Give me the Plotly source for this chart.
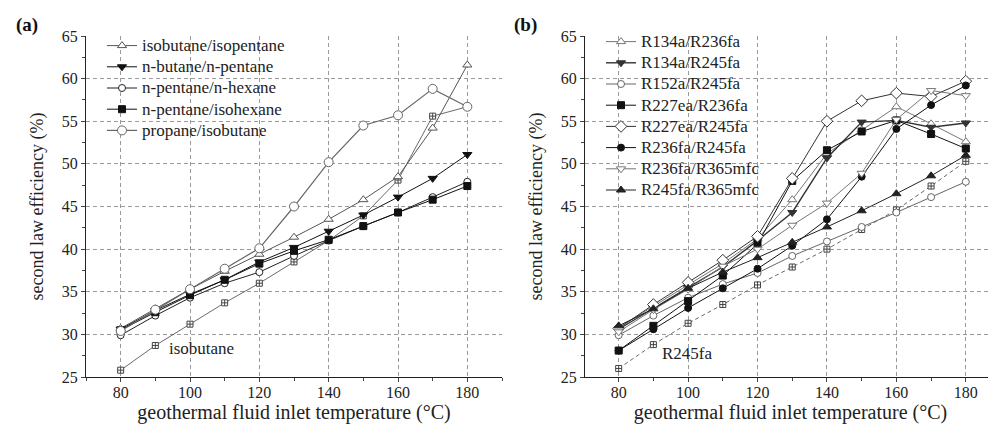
import plotly.graph_objects as go

temps = [80, 90, 100, 110, 120, 130, 140, 150, 160, 170, 180]

# ---- panel (a): hydrocarbon mixtures ----
a_names = ["isobutane/isopentane", "n-butane/n-pentane", "n-pentane/n-hexane",
           "n-pentane/isohexane", "propane/isobutane"]
a_isobutane_isopentane = [30.7, 33.0, 35.3, 37.4, 39.4, 41.4, 43.5, 45.8, 48.5, 54.2, 61.6]
a_nbutane_npentane = [30.6, 32.8, 34.7, 36.4, 38.5, 40.2, 42.1, 44.0, 46.1, 48.3, 51.1]
a_npentane_nhexane = [29.9, 32.2, 34.3, 36.0, 37.3, 39.2, 41.0, 42.7, 44.3, 46.1, 47.9]
a_npentane_isohexane = [30.5, 32.6, 34.6, 36.4, 38.3, 39.8, 41.1, 42.7, 44.3, 45.8, 47.4]
a_propane_isobutane = [30.4, 32.9, 35.3, 37.7, 40.1, 45.0, 50.2, 54.5, 55.7, 58.8, 56.7]
a_isobutane = [25.8, 28.7, 31.2, 33.7, 36.0, 38.5, 41.0, 43.9, 48.1, 55.6, 56.7]

# ---- panel (b): refrigerant mixtures ----
b_names = ["R134a/R236fa", "R134a/R245fa", "R152a/R245fa", "R227ea/R236fa",
           "R227ea/R245fa", "R236fa/R245fa", "R236fa/R365mfc", "R245fa/R365mfc"]
b_r134a_r236fa = [30.8, 33.3, 35.8, 38.3, 41.2, 45.8, 51.2, 54.0, 56.7, 54.7, 52.6]
b_r134a_r245fa = [30.6, 33.1, 35.5, 37.9, 41.0, 44.3, 50.7, 54.9, 55.1, 54.3, 54.8]
b_r152a_r245fa = [29.9, 32.2, 34.3, 35.9, 37.2, 39.2, 40.9, 42.6, 44.3, 46.1, 47.9]
b_r227ea_r236fa = [28.1, 31.0, 33.9, 36.9, 40.6, 48.0, 51.6, 53.8, 55.1, 53.5, 51.8]
b_r227ea_r245fa = [30.7, 33.5, 36.1, 38.7, 41.5, 48.3, 55.0, 57.4, 58.3, 57.9, 59.7]
b_r236fa_r245fa = [28.1, 30.6, 33.1, 35.4, 37.7, 40.4, 43.5, 48.5, 54.1, 56.9, 59.2]
b_r236fa_r365mfc = [30.3, 32.9, 35.3, 38.0, 40.0, 42.8, 45.4, 48.9, 55.2, 58.6, 58.0]
b_r245fa_r365mfc = [31.0, 33.0, 35.4, 37.3, 39.0, 40.8, 42.6, 44.5, 46.5, 48.6, 51.0]
b_r245fa = [26.0, 28.8, 31.3, 33.5, 35.8, 37.9, 40.0, 42.3, 44.6, 47.4, 50.3]

y_ticks = [25, 30, 35, 40, 45, 50, 55, 60, 65]
y_grid = [30, 35, 40, 45, 50, 55, 60]
x_ticks = [80, 100, 120, 140, 160, 180]

FONT = "Liberation Serif, Times New Roman, serif"
TXT = "#222222"
DASH = "4px,3px"

fig = go.Figure()


def add(y, name, symbol, color, size, xa, ya, legend, lw=1.0, dash="solid",
        show=True, fill=None):
    fig.add_trace(go.Scatter(
        x=temps, y=y, mode="lines+markers",
        name='<span style="font-size:17px">' + name + "</span>",
        line=dict(color=color, width=lw, dash=dash),
        marker=dict(symbol=symbol, size=size, color=fill if fill else color,
                    line=dict(color=color, width=1)),
        xaxis=xa, yaxis=ya, legend=legend, showlegend=show))


W_ = "white"
# panel (a)
add(a_isobutane, "isobutane", "square-cross", "#444444", 6, "x", "y", "legend",
    lw=0.8, show=False, fill=W_)
add(a_isobutane_isopentane, a_names[0], "triangle-up", "#555555", 8, "x", "y", "legend", fill=W_)
add(a_nbutane_npentane, a_names[1], "triangle-down", "#111111", 8, "x", "y", "legend")
add(a_npentane_nhexane, a_names[2], "circle", "#222222", 7, "x", "y", "legend", fill=W_)
add(a_npentane_isohexane, a_names[3], "square", "#111111", 7, "x", "y", "legend")
add(a_propane_isobutane, a_names[4], "circle", "#666666", 9, "x", "y", "legend", lw=1.2, fill=W_)

# panel (b)
add(b_r245fa, "R245fa", "square-cross", "#444444", 6, "x2", "y2", "legend2",
    lw=0.8, dash=DASH, show=False, fill=W_)
add(b_r134a_r236fa, b_names[0], "triangle-up", "#777777", 8, "x2", "y2", "legend2", fill=W_)
add(b_r134a_r245fa, b_names[1], "triangle-down", "#333333", 8, "x2", "y2", "legend2", lw=1.4)
add(b_r152a_r245fa, b_names[2], "circle", "#666666", 7, "x2", "y2", "legend2", fill=W_)
add(b_r227ea_r236fa, b_names[3], "square", "#111111", 7, "x2", "y2", "legend2")
add(b_r227ea_r245fa, b_names[4], "diamond", "#333333", 9, "x2", "y2", "legend2", fill=W_)
add(b_r236fa_r245fa, b_names[5], "circle", "#111111", 7, "x2", "y2", "legend2")
add(b_r236fa_r365mfc, b_names[6], "triangle-down", "#777777", 8, "x2", "y2", "legend2", fill=W_)
add(b_r245fa_r365mfc, b_names[7], "triangle-up", "#222222", 8, "x2", "y2", "legend2")

GRIDC = "#9a9a9a"
xcommon = dict(tickvals=x_ticks, ticks="outside", ticklen=4, ticklabelstandoff=-3,
               showline=True, linecolor="#222", linewidth=1, showgrid=True,
               gridcolor=GRIDC, griddash=DASH, gridwidth=1, zeroline=False,
               tickfont=dict(family=FONT, size=16, color=TXT),
               minor=dict(dtick=10, tick0=0, ticks="outside", ticklen=3, showgrid=False),
               title=dict(text="geothermal fluid inlet temperature (°C)",
                          font=dict(family=FONT, size=20, color=TXT), standoff=1))
ycommon = dict(range=[25, 65], tickvals=y_ticks,
               ticks="outside", ticklen=4, showline=True, linecolor="#222", linewidth=1,
               showgrid=False, zeroline=False,
               tickfont=dict(family=FONT, size=16, color=TXT),
               minor=dict(dtick=2.5, tick0=0, ticks="outside", ticklen=3, showgrid=False),
               title=dict(text="second law efficiency (%)",
                          font=dict(family=FONT, size=18, color=TXT), standoff=13))
ygrid = dict(range=[25, 65], tickvals=y_grid, showticklabels=False, ticks="",
             showline=False, showgrid=True, gridcolor=GRIDC, griddash=DASH,
             gridwidth=1, zeroline=False)

# page body has an 8px margin: work in window pixels and convert
OFF = 8
W, H = 996 - OFF, 437 - OFF
ML = 86 - OFF
MT = 36 - OFF
MB = H - (377 - OFF)
MR = 0
PW = W - ML - MR
PH = H - MT - MB


def px(xw):
    return (xw - OFF - ML) / PW


def py(yw):
    return 1 + (MT - (yw - OFF)) / PH


fig.update_layout(
    width=W, height=H, margin=dict(l=ML, r=MR, t=MT, b=MB, autoexpand=False),
    paper_bgcolor="white", plot_bgcolor="white",
    font=dict(family=FONT, color=TXT),
    xaxis=dict(domain=[0, px(502)], range=[70, 190], anchor="y", **xcommon),
    yaxis=dict(domain=[0, 1], anchor="x", **ycommon),
    xaxis2=dict(domain=[px(585), 1], range=[70.3, 188.7], anchor="y2", **xcommon),
    yaxis2=dict(domain=[0, 1], anchor="x2", **ycommon),
    yaxis3=dict(overlaying="y", anchor="x", **ygrid),
    yaxis4=dict(overlaying="y2", anchor="x2", **ygrid),
    legend=dict(x=px(102), y=py(30), xanchor="left", yanchor="top",
                bgcolor="rgba(0,0,0,0)", font=dict(family=FONT, size=14, color=TXT),
                tracegroupgap=0, itemwidth=30),
    legend2=dict(x=px(601), y=py(26), xanchor="left", yanchor="top",
                 bgcolor="rgba(0,0,0,0)", font=dict(family=FONT, size=14, color=TXT),
                 tracegroupgap=0, itemwidth=30),
    showlegend=True,
)

# invisible helper traces so the grid-only axes are drawn
fig.add_trace(go.Scatter(x=[], y=[], xaxis="x", yaxis="y3", showlegend=False, hoverinfo="skip"))
fig.add_trace(go.Scatter(x=[], y=[], xaxis="x2", yaxis="y4", showlegend=False, hoverinfo="skip"))

fig.add_annotation(text="<b>(a)</b>", x=px(27), y=py(25), xanchor="center", yanchor="middle",
                   xref="paper", yref="paper", showarrow=False,
                   font=dict(family=FONT, size=19, color="#111"))
fig.add_annotation(text="<b>(b)</b>", x=px(525), y=py(25), xanchor="center", yanchor="middle",
                   xref="paper", yref="paper", showarrow=False,
                   font=dict(family=FONT, size=19, color="#111"))
fig.add_annotation(text="isobutane", x=93.5, y=28.4, xref="x", yref="y", xanchor="left",
                   showarrow=False, font=dict(family=FONT, size=17, color=TXT))
fig.add_annotation(text="R245fa", x=91.8, y=27.7, xref="x2", yref="y2", xanchor="left",
                   showarrow=False, font=dict(family=FONT, size=17, color=TXT))

fig.write_html("out.html")
